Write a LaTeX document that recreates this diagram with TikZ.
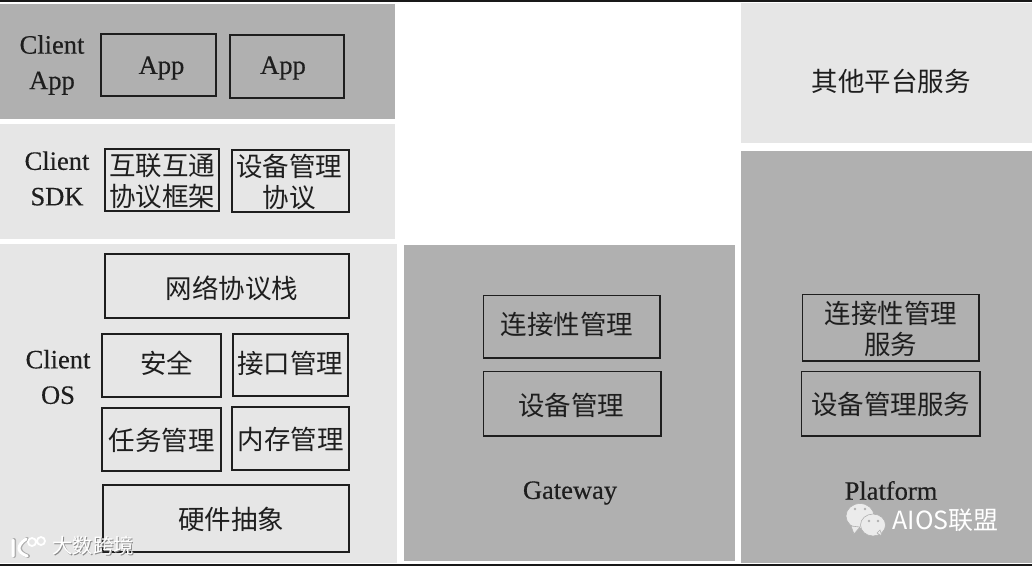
\documentclass[tikz,border=0pt]{standalone}
\usepackage{fontspec}
\setmainfont{Liberation Serif}[RawFeature={embolden=0.35}]
\newfontfamily\cjk{Noto Sans CJK SC}
\newfontfamily\wmfont{Noto Sans CJK SC}
\definecolor{darkpanel}{HTML}{B0B0B0}
\definecolor{lightpanel}{HTML}{E6E6E6}
\definecolor{ink}{HTML}{1E1E1E}
\definecolor{wmshade}{HTML}{8A8A8A}
\newcommand{\zh}[1]{{\cjk #1}}
\newcommand{\bxnode}[8]{% name, x1, y1, x2, y2, text dx, text dy, text
  \pgfmathsetmacro{\bw}{#4-#2}\pgfmathsetmacro{\bh}{#5-#3}
  \pgfmathsetmacro{\bx}{(#2+#4)/2}\pgfmathsetmacro{\by}{(#3+#5)/2}
  \pgfmathsetmacro{\tx}{\bx+#6}\pgfmathsetmacro{\ty}{\by+#7}
  \node[cellbox,minimum width=\bw pt,minimum height=\bh pt] (#1) at (\bx,\by) {};
  \node[celltext] (#1t) at (\tx,\ty) {#8};}
\newcommand{\panelnode}[6]{% name, x1, y1, x2, y2, colour
  \pgfmathsetmacro{\bw}{#4-#2}\pgfmathsetmacro{\bh}{#5-#3}
  \pgfmathsetmacro{\bx}{(#2+#4)/2}\pgfmathsetmacro{\by}{(#3+#5)/2}
  \node[panelbox,fill=#6,minimum width=\bw pt,minimum height=\bh pt] (#1) at (\bx,\by) {};}
\tikzset{
  cellbox/.style={draw=ink,line width=1.6pt,inner sep=0pt,outer sep=0pt},
  celltext/.style={inner sep=0pt,align=center,text=ink,font=\fontsize{26.5}{31.5}\selectfont},
  panelbox/.style={draw=none,inner sep=0pt,outer sep=0pt},
  tag/.style={inner sep=0pt,align=center,text=ink,font=\fontsize{26.5}{35.5}\selectfont},
  wmark/.style={inner sep=0pt,text=white,font=\wmfont\fontsize{25}{25}\selectfont},
  wechat/.style={fill=white!92!black,draw=darkpanel,line width=.6pt}
}
\begin{document}
\begin{tikzpicture}[x=1pt,y=-1pt]
\useasboundingbox (0,0) rectangle (1032,566);
\fill[white] (0,0) rectangle (1032,566);
\panelnode{pa}{0}{4}{395}{119}{darkpanel}
\panelnode{ps}{0}{124}{395}{239}{lightpanel}
\panelnode{po}{0}{244}{397}{563}{lightpanel}
\panelnode{pg}{404}{245}{735}{561}{darkpanel}
\panelnode{px}{741}{3}{1032}{143}{lightpanel}
\panelnode{pp}{741}{151}{1032}{563}{darkpanel}
\fill[black!90] (0,0) rectangle (1032,2);
\fill[black!90] (0,563.5) rectangle (1032,566);
% boxes
\bxnode{a1}{101}{34}{216}{96}{3}{3}{App}
\bxnode{a2}{230}{35}{344}{98}{-4}{1.5}{App}
\bxnode{s1}{105}{149}{219}{211}{0}{1}{\zh{互联互通}\\\zh{协议框架}}
\bxnode{s2}{232}{150}{349}{212}{-1.5}{1}{\zh{设备管理}\\\zh{协议}}
\bxnode{o1}{105}{254}{349}{318}{5}{2}{\zh{网络协议栈}}
\bxnode{o2}{102}{334}{221}{397}{5}{-2}{\zh{安全}}
\bxnode{o3}{233}{334}{348}{396}{-0.5}{-2}{\zh{接口管理}}
\bxnode{o4}{102}{408}{221}{471}{0}{1}{\zh{任务管理}}
\bxnode{o5}{232}{407}{349}{470}{0}{1}{\zh{内存管理}}
\bxnode{o6}{103}{485}{349}{552}{5}{1}{\zh{硬件抽象}}
\bxnode{g1}{483.5}{295.5}{660}{358}{-5}{-2}{\zh{连接性管理}}
\bxnode{g2}{483.5}{371.5}{661}{436}{-1}{2}{\zh{设备管理}}
\bxnode{p1}{802.5}{294.5}{979}{361}{0}{1}{\zh{连接性管理}\\\zh{服务}}
\bxnode{p2}{801.5}{371.5}{980}{436}{0}{1}{\zh{设备管理服务}}
% labels
\node[tag] (lapp) at (52,65) {Client\\App};
\node[tag] (lsdk) at (57,178.5) {Client\\SDK};
\node[tag] (los) at (58,377) {Client\\OS};
\node[tag] (lgw) at (570,493) {Gateway};
\node[tag] (lpf) at (891,490.5) {Platform};
\node[tag] (lother) at (891,81) {\zh{其他平台服务}};
% watermark, lower left
\node[wmark,font=\wmfont\fontsize{20.5}{20.5}\selectfont] (wm1) at (93,546)
  {\rlap{\kern1pt\raisebox{-1pt}{\textcolor{wmshade}{大数跨境}}}大数跨境};
\draw[wmshade,line width=4pt,line cap=round,opacity=.6]
  (14,540) -- (14,556) (27,539) .. controls (18,545) and (17,552) .. (28,556);
\draw[white,line width=3pt,line cap=round]
  (13,540) -- (13,556) (26,539) .. controls (17,545) and (16,552) .. (27,556);
\draw[white,line width=1.8pt] (32,542) circle (4) (41,541) circle (4);
% watermark, lower right
\fill[wechat] (860,516) ellipse (14 and 12.5);
\fill[wechat] (851,526) -- (854,534) -- (860,527) -- cycle;
\fill[wechat] (873,525) ellipse (12.5 and 11);
\fill[wechat] (877,533) -- (882,536) -- (880,530) -- cycle;
\fill[darkpanel] (855,509) circle (1.4) (865,509) circle (1.4) (869,521) circle (1.4) (878,521) circle (1.4);
\node[wmark,anchor=west] (wm2) at (892.5,520) {AIOS联盟};
\end{tikzpicture}
\end{document}
